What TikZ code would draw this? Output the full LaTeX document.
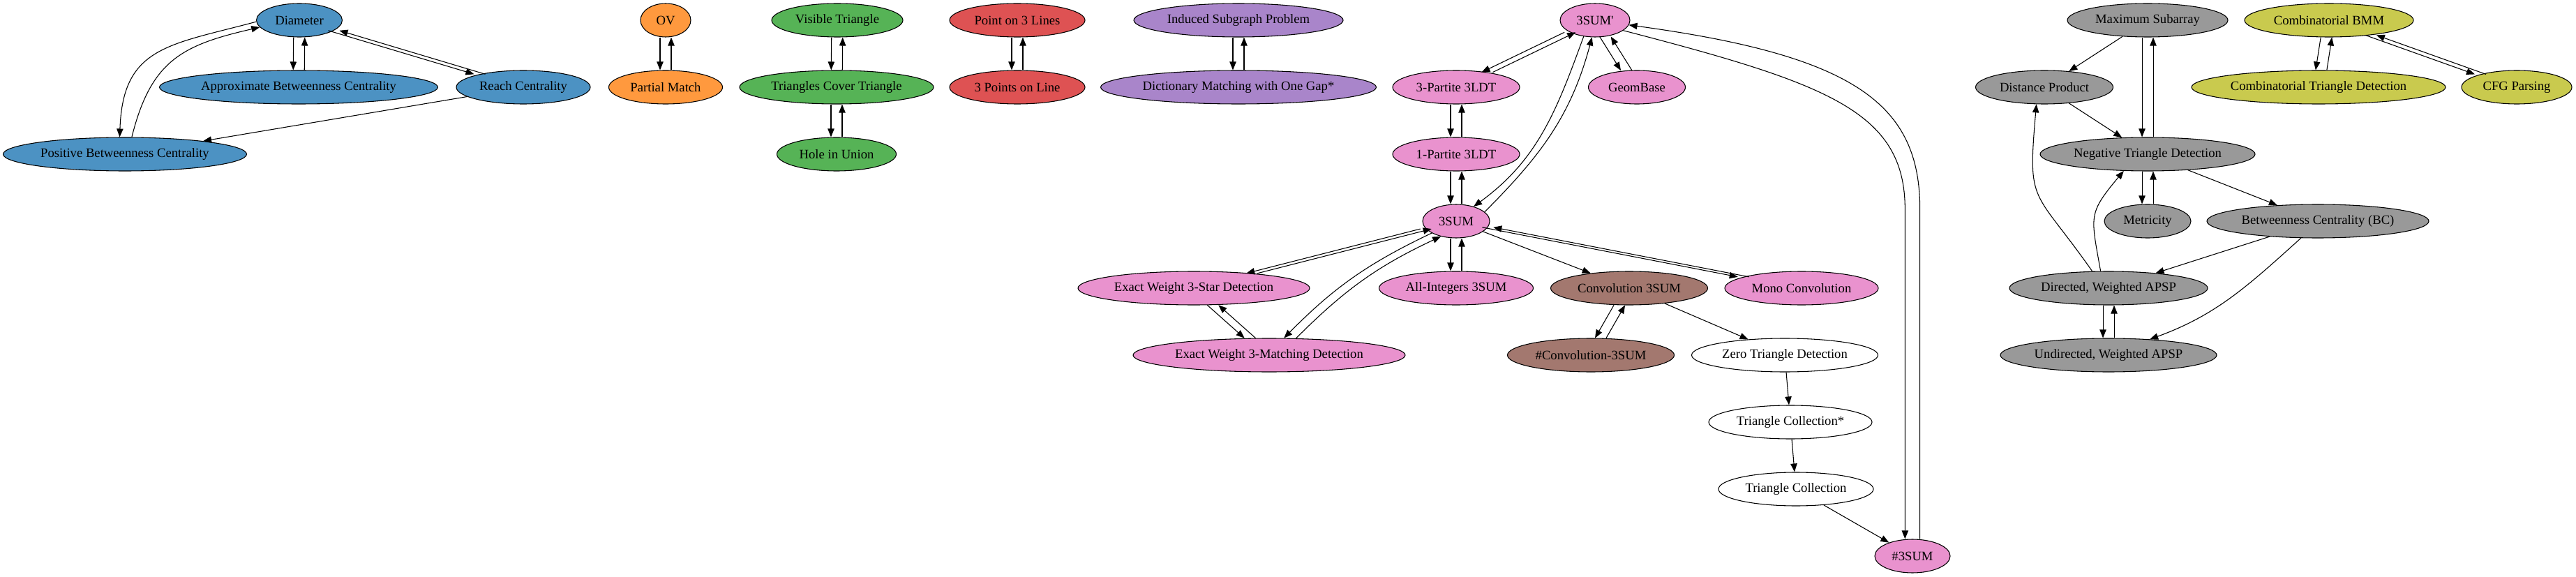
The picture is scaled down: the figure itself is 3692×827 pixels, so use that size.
\documentclass[tikz,border=0pt]{standalone}
\usepackage{fontspec}
\newfontfamily\gvfont{Liberation Serif}
\usetikzlibrary{arrows.meta,shapes.geometric}

\definecolor{tabblue}{RGB}{76,146,195}
\definecolor{taborange}{RGB}{255,153,62}
\definecolor{tabgreen}{RGB}{86,179,86}
\definecolor{tabred}{RGB}{222,82,83}
\definecolor{tabpurple}{RGB}{169,133,202}
\definecolor{tabpink}{RGB}{233,146,206}
\definecolor{tabbrown}{RGB}{163,120,111}
\definecolor{tabgray}{RGB}{153,153,153}
\definecolor{tabolive}{RGB}{201,202,78}

% two opposite edges, drawn side by side
\newcommand{\pairgap}{6pt}
\newcommand{\biedge}[2]{%
  \draw[edge,transform canvas={xshift=-\pairgap}] (#1) -- (#2);
  \draw[edge,transform canvas={xshift=\pairgap}] (#2) -- (#1);}

\begin{document}
\begin{tikzpicture}[
  x=0.75pt,y=0.75pt,
  font=\gvfont\fontsize{14}{16}\selectfont,
  >={Triangle[length=9pt,width=7pt]},
  problem/.style={ellipse,draw,line width=0.8pt,minimum height=36pt,inner sep=0pt,minimum width=#1*0.75pt},
  centrality/.style={problem=#1,fill=tabblue},
  vectors/.style={problem=#1,fill=taborange},
  geometry/.style={problem=#1,fill=tabgreen},
  collinear/.style={problem=#1,fill=tabred},
  strings/.style={problem=#1,fill=tabpurple},
  threesum/.style={problem=#1,fill=tabpink},
  convolution/.style={problem=#1,fill=tabbrown},
  plainnode/.style={problem=#1,fill=white},
  apsp/.style={problem=#1,fill=tabgray},
  bmm/.style={problem=#1,fill=tabolive},
  edge/.style={->,line width=0.8pt}
]
\fill[white] (0,0) rectangle (3692,-827);
\useasboundingbox (0,0) rectangle (3692,-827);

% betweenness / diameter
\node[centrality=123] (dia) at (429,-29) {Diameter};
\node[centrality=399] (abc) at (428,-125) {Approximate Betweenness Centrality};
\node[centrality=192] (reach) at (750,-125) {Reach Centrality};
\node[centrality=349] (pbc) at (179,-221) {Positive Betweenness Centrality};

% OV
\node[vectors=72] (ov) at (954,-29) {OV};
\node[vectors=163] (pm) at (954,-125) {Partial Match};

% geometry
\node[geometry=188] (vt) at (1200,-29) {Visible Triangle};
\node[geometry=278] (tct) at (1199,-125) {Triangles Cover Triangle};
\node[geometry=171] (hiu) at (1199,-221) {Hole in Union};

\node[collinear=194] (p3l) at (1458,-29) {Point on 3 Lines};
\node[collinear=194] (p3on) at (1458,-125) {3 Points on Line};

\node[strings=300] (isp) at (1775,-29) {Induced Subgraph Problem};
\node[strings=395] (dmg) at (1775,-125) {Dictionary Matching with One Gap*};

% 3SUM family
\node[threesum=100] (s3p) at (2286,-29) {3SUM'};
\node[threesum=182] (p3ldt) at (2087,-125) {3-Partite 3LDT};
\node[threesum=139] (geomb) at (2346,-125) {GeomBase};
\node[threesum=182] (p1ldt) at (2087,-221) {1-Partite 3LDT};
\node[threesum=96] (s3) at (2087,-317) {3SUM};
\node[threesum=332] (ew3s) at (1711,-413) {Exact Weight 3-Star Detection};
\node[threesum=221] (ai3s) at (2087,-413) {All-Integers 3SUM};
\node[convolution=225] (c3s) at (2335,-413) {Convolution 3SUM};
\node[threesum=220] (mono) at (2582,-413) {Mono Convolution};
\node[threesum=390] (ew3m) at (1819,-509) {Exact Weight 3-Matching Detection};
\node[convolution=239] (hc3s) at (2280,-509) {\#Convolution-3SUM};
\node[plainnode=267] (ztd) at (2558,-509) {Zero Triangle Detection};
\node[plainnode=234] (tcs) at (2566,-605) {Triangle Collection*};
\node[plainnode=222] (tc) at (2574,-701) {Triangle Collection};
\node[threesum=108] (h3s) at (2741,-797) {\#3SUM};

% APSP family
\node[apsp=230] (msa) at (3078,-29) {Maximum Subarray};
\node[apsp=197] (dp) at (2930,-125) {Distance Product};
\node[apsp=308] (ntd) at (3078,-221) {Negative Triangle Detection};
\node[apsp=124] (met) at (3078,-317) {Metricity};
\node[apsp=318] (bc) at (3322,-317) {Betweenness Centrality (BC)};
\node[apsp=284] (dapsp) at (3022,-413) {Directed, Weighted APSP};
\node[apsp=310] (uapsp) at (3022,-509) {Undirected, Weighted APSP};

% BMM
\node[bmm=242] (cbmm) at (3338,-29) {Combinatorial BMM};
\node[bmm=364] (ctd) at (3323,-125) {Combinatorial Triangle Detection};
\node[bmm=158] (cfg) at (3607,-125) {CFG Parsing};

\foreach \a/\b in {dia/abc,dia/reach,ov/pm,vt/tct,tct/hiu,p3l/p3on,isp/dmg,
  s3p/p3ldt,s3p/geomb,p3ldt/p1ldt,p1ldt/s3,s3/ew3s,s3/ai3s,s3/mono,ew3s/ew3m,
  c3s/hc3s,msa/ntd,ntd/met,dapsp/uapsp,cbmm/ctd,cbmm/cfg}{
  \biedge{\a}{\b}
}
\foreach \a/\b in {reach/pbc,s3/c3s,c3s/ztd,ztd/tcs,tcs/tc,tc/h3s,
  msa/dp,dp/ntd,ntd/bc,bc/dapsp}{
  \draw[edge] (\a) -- (\b);
}

\draw[edge] (dia.182) to[out=195,in=88,looseness=1.3] (pbc.107);
\draw[edge] (pbc.68) to[out=76,in=193,looseness=1.2] (dia.190);

\draw[edge] (s3p.235) to[out=-110,in=36] (s3.40);
\draw[edge] (s3.18) to[out=45,in=-105] (s3p.260);
\draw[edge] (s3.206) to[bend right=10] (ew3m.49);
\draw[edge] (ew3m.32) to[bend left=10] (s3.225);

\draw[edge] (s3p.340) .. controls (2620,-120) and (2730.33,-160) .. (2730.33,-300) -- ([xshift=-8pt]h3s.north);
\draw[edge] ([xshift=8pt]h3s.north) -- (2751.67,-300) .. controls (2751.67,-150) and (2660,-80) .. (s3p.352);

\draw[edge] (dapsp.134) to[out=125,in=-95,looseness=1.5] (dp.245);
\draw[edge] (dapsp.115) to[out=100,in=-130,looseness=1.4] (ntd.215);
\draw[edge] (bc.225) to[out=222,in=20] (uapsp.21);
\end{tikzpicture}
\end{document}
